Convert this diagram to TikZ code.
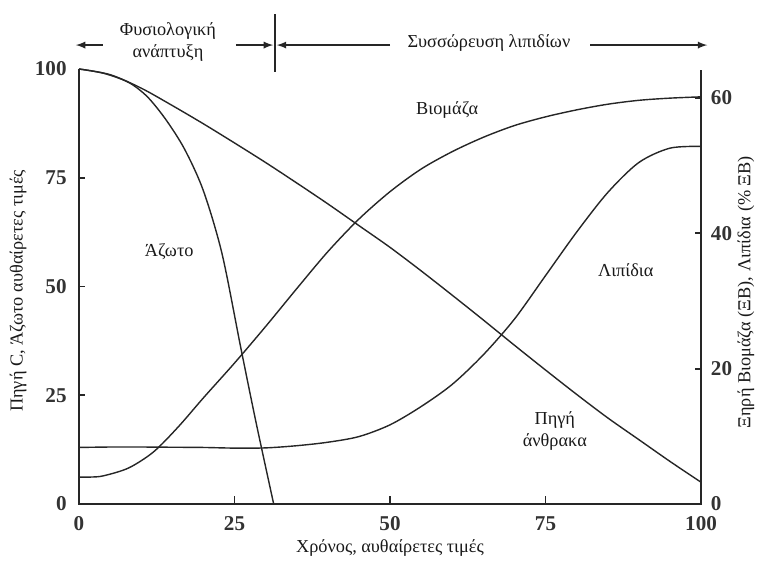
\documentclass[tikz,border=0pt]{standalone}
\usepackage{fontspec}
\setmainfont{Liberation Serif}
\usetikzlibrary{arrows}

\begin{document}
\begin{tikzpicture}[x=0.1555cm,y=0.10875cm]
  \useasboundingbox (-12.70,-13.56) rectangle (109.16,115.86);
  % def assi
  \coordinate (O) at (0,0);
  \coordinate (L) at (0,100);
  \coordinate (X) at (100,0);
  \coordinate (R) at (100,99.8);
  % def intestazione
  \coordinate (a0) at (-0.5,105.5);
  \coordinate (a1) at (3.8,105.5);
  \coordinate (a2) at (25.2,105.5);
  \coordinate (a3) at (31.2,105.5);
  \coordinate (d1) at (31.5,112.6);
  \coordinate (d2) at (31.5,99.3);
  \coordinate (b0) at (31.8,105.5);
  \coordinate (b1) at (50,105.5);
  \coordinate (b2) at (82.2,105.5);
  \coordinate (b3) at (101,105.5);

  %stili
  \tikzset{axis/.style={line width=1.3pt, black!85},
    curve/.style={line width=1pt, black!85},
    hdr/.style={-latex, line width=1.3pt, black!85},
    lab/.style={font=\fontsize{13}{15.6}\selectfont, text=black!90, align=center},
    num/.style={font=\fontsize{15}{17}\selectfont\bfseries, text=black!80}}

  %intestazione
  \draw[hdr] (a1) -- (a0);
  \draw[hdr] (a2) -- (a3);
  \draw[axis] (d1) -- (d2);
  \draw[hdr] (b1) -- (b0);
  \draw[hdr] (b2) -- (b3);
  \node[lab] (phys) at (14.3,106.2) {Φυσιολογική\\ανάπτυξη};
  \node[lab] (accum) at (65.9,106) {Συσσώρευση λιπιδίων};

  %assi
  \draw[axis] (L) -- (O) -- (X) -- (R);
  \foreach \t in {25,50,75} {
    \draw[axis] (0,\t) -- (1,\t);
    \draw[axis] (\t,0) -- (\t,1.8);
  }
  \foreach \v in {20,40,60}
    \draw[axis] (100,{\v*1.556}) -- (99,{\v*1.556});

  %numeri
  \foreach \v in {0,25,50,75,100} {
    \node[num, anchor=east] (l\v) at (-1.2,\v) {\v};
    \node[num, anchor=north] (x\v) at (\v,-1.7) {\v};
  }
  \foreach \v in {0,20,40,60}
    \node[num, anchor=west] (r\v) at (100.8,{\v*1.556}) {\v};

  %curve
  \draw[curve] plot[smooth] coordinates {(0,100) (5,98.7) (10,95.6) (15,91.6)
    (20,87.4) (25,83) (30,78.5) (35,73.8) (40,69) (45,64) (50,59) (55,53.6)
    (60,48) (65,42.3) (70,36.5) (75,30.8) (80,25.2) (85,19.8) (90,14.8)
    (95,9.8) (100,5)};
  \draw[curve] plot[smooth] coordinates {(0,100) (4,99) (8,96.9) (11,93.6)
    (14,88.3) (17,81.5) (20,72) (23,57.5) (26,36) (28.5,18.5) (31.3,0)};
  \draw[curve] plot[smooth] coordinates {(0,6.2) (2,6.2) (4,6.5) (8,8.3)
    (12,12) (16,17.8) (20,24.4) (25,32.4) (30,40.8) (35,49.5) (40,58)
    (45,65.5) (50,71.8) (55,77) (60,81) (65,84.3) (70,87) (75,89)
    (80,90.6) (85,91.9) (90,92.8) (95,93.3) (100,93.6)};
  \draw[curve] plot[smooth] coordinates {(0,13) (5,13.1) (10,13.1) (15,13.05)
    (20,13) (25,12.85) (30,12.9) (35,13.4) (40,14.2) (45,15.5) (50,18.2)
    (55,22.4) (60,27.5) (65,34.3) (70,42.5) (75,52.5) (80,62.5) (85,71.6)
    (90,78.5) (95,81.8) (100,82.2)};

  %etichette
  \node[lab] (bio) at (59.2,90.6) {Βιομάζα};
  \node[lab] (lip) at (87.9,53.8) {Λιπίδια};
  \node[lab] (carb) at (76.5,16.8) {Πηγή\\άνθρακα};
  \node[lab] (nit) at (14.5,57.9) {Άζωτο};

  \node[lab, rotate=90] (ylab) at (-9.8,49) {Πηγή C, Άζωτο αυθαίρετες τιμές};
  \node[lab] (xlab) at (50,-10.1) {Χρόνος, αυθαίρετες τιμές};
  \node[lab, rotate=90] (rlab) at (107.2,48.7) {Ξηρή Βιομάζα (ΞΒ), Λιπίδια (\% ΞΒ)};

\end{tikzpicture}
\end{document}
